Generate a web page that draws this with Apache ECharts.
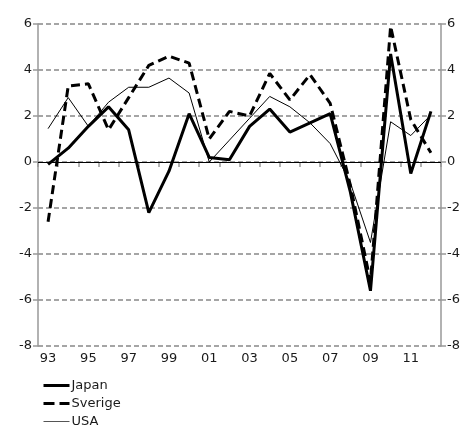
<!DOCTYPE html>
<html>
<head>
<meta charset="utf-8">
<script src="https://cdn.jsdelivr.net/npm/echarts@6/dist/echarts.min.js"></script>
<style>html,body{margin:0;padding:0;background:#fff}#c{width:469px;height:429px}</style>
</head>
<body>
<div id="c"></div>
<script>
const titleText = 'Utveckling, i fasta priser';
const years = ['93','94','95','96','97','98','99','00','01','02','03','04','05','06','07','08','09','10','11','12'];
const japan = [-0.1, 0.6, 1.55, 2.4, 1.4, -2.2, -0.4, 2.1, 0.2, 0.1, 1.55, 2.3, 1.3, 1.7, 2.1, -1.3, -5.6, 4.7, -0.5, 2.2];
const sverige = [-2.6, 3.3, 3.4, 1.4, 2.8, 4.2, 4.6, 4.3, 1.0, 2.2, 2.0, 3.85, 2.7, 3.8, 2.55, -1.0, -5.2, 5.9, 1.85, 0.4];
const usa = [1.45, 2.8, 1.55, 2.6, 3.25, 3.25, 3.65, 3.0, 0.0, 0.95, 1.9, 2.85, 2.4, 1.7, 0.8, -0.9, -3.5, 1.75, 1.15, 2.05];
const yMin = -8, yMax = 6, yStep = 2;

const font = 'DejaVu Sans';
const txt = '#1a1a1a';
const gridCol = '#888888';
const chart = echarts.init(document.getElementById('c'), null, {renderer: 'canvas'});
const yAxisBase = (pos) => ({
  type: 'value', position: pos, min: yMin, max: yMax, interval: yStep,
  axisLine: {show: true, lineStyle: {color: '#999', width: 1.5}},
  axisTick: {show: true, length: 5, lineStyle: {color: '#999', width: 1.5}},
  axisLabel: {color: txt, fontFamily: font, fontSize: 13, margin: 6},
  splitLine: {show: pos === 'left', lineStyle: {color: gridCol, width: 1.5, type: [5, 3]}}
});
chart.setOption({
  animation: false,
  title: {text: titleText, left: 'center', top: -16, padding: 0,
    textStyle: {fontFamily: font, fontSize: 12, fontWeight: 'normal', color: txt}},
  grid: {left: 38, right: 28, top: 24, bottom: 83},
  legend: {
    orient: 'vertical', left: 42, top: 379, padding: 0, itemGap: 5, itemWidth: 26, itemHeight: 14,
    itemStyle: {opacity: 0},
    textStyle: {fontFamily: font, fontSize: 13, color: txt, padding: [0,0,0,-3]},
    data: [
      {name: 'Japan', lineStyle: {width: 3, color: '#000'}},
      {name: 'Sverige', lineStyle: {width: 3, color: '#000', type: [11, 5]}},
      {name: 'USA', lineStyle: {width: 1, color: '#555'}}
    ]
  },
  xAxis: {
    type: 'category', data: years, boundaryGap: true,
    axisLine: {show: false},
    axisTick: {show: true, interval: 0, length: 5, lineStyle: {color: '#999', width: 1.5}},
    axisLabel: {interval: 1, color: txt, fontFamily: font, fontSize: 13, margin: 6}
  },
  yAxis: [yAxisBase('left'), yAxisBase('right')],
  series: [
    {name: 'Japan', type: 'line', data: japan, symbol: 'none', z: 5,
      lineStyle: {color: '#000', width: 3}, itemStyle: {color: '#000'},
      markLine: {silent: true, symbol: 'none', label: {show: false},
        lineStyle: {color: '#000', width: 1.2, type: 'solid'}, data: [{yAxis: 0}]}},
    {name: 'Sverige', type: 'line', data: sverige, symbol: 'none', z: 4,
      lineStyle: {color: '#000', width: 3, type: [9, 5]}, itemStyle: {color: '#000'}},
    {name: 'USA', type: 'line', data: usa, symbol: 'none', z: 3,
      lineStyle: {color: '#000', width: 1}, itemStyle: {color: '#000'}}
  ]
});
</script>
</body>
</html>
